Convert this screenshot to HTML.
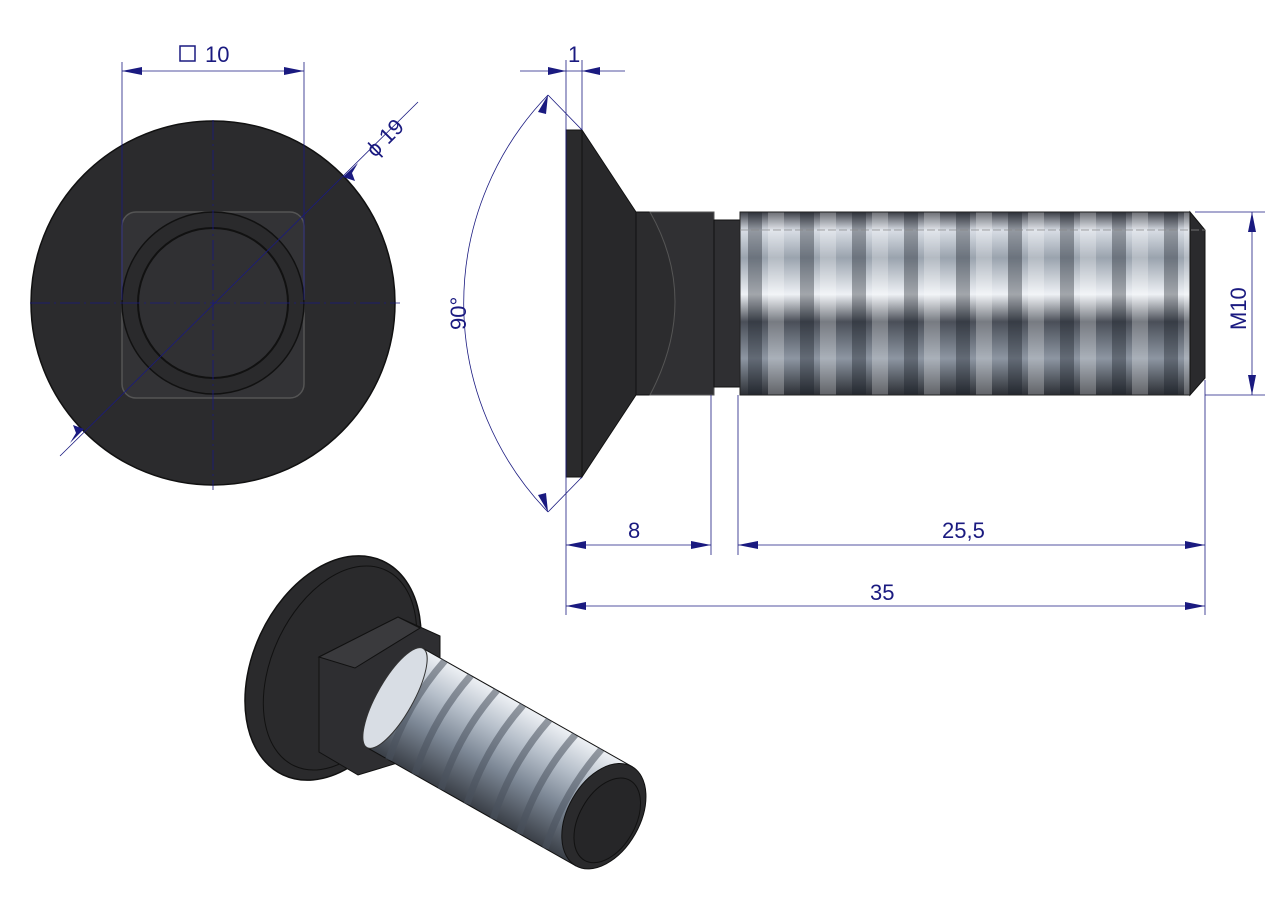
<!DOCTYPE html>
<html><head><meta charset="utf-8"><style>
html,body{margin:0;padding:0;background:#fff;}
svg{display:block;}
text{font-family:"Liberation Sans",sans-serif;fill:#1a1a80;}
</style></head><body>
<svg width="1280" height="905" viewBox="0 0 1280 905" xmlns="http://www.w3.org/2000/svg">
<defs>
<linearGradient id="thr" x1="0" y1="0" x2="0" y2="1">
<stop offset="0" stop-color="#3a3d45"/><stop offset="0.1" stop-color="#d8dde5"/>
<stop offset="0.25" stop-color="#9aa3ae"/><stop offset="0.45" stop-color="#eef1f5"/>
<stop offset="0.6" stop-color="#4a4f58"/><stop offset="0.8" stop-color="#8d96a2"/>
<stop offset="1" stop-color="#2c2f35"/></linearGradient>
<pattern id="rib" x="748" y="0" width="52" height="905" patternUnits="userSpaceOnUse">
<rect x="0" width="14" height="905" fill="rgba(20,25,35,0.35)"/>
<rect x="20" width="16" height="905" fill="rgba(255,255,255,0.25)"/>
</pattern>
<linearGradient id="iso" x1="0" y1="0" x2="0" y2="1">
<stop offset="0" stop-color="#eef1f5"/><stop offset="0.3" stop-color="#b6bfca"/><stop offset="0.6" stop-color="#7d8896"/><stop offset="1" stop-color="#3a3f47"/></linearGradient>
</defs>

<!-- TOP VIEW -->
<circle cx="213" cy="303" r="182" fill="#2b2b2d" stroke="#111" stroke-width="1.5"/>
<rect x="122" y="212" width="182" height="186" rx="14" fill="#333336" stroke="#555" stroke-width="1.5"/>
<circle cx="213" cy="303" r="91" fill="#2a2a2c" stroke="#111" stroke-width="1.5"/>
<circle cx="213" cy="303" r="75" fill="#303033" stroke="#111" stroke-width="2"/>
<g stroke="#1a1a80" stroke-width="0.8" fill="none">
<line x1="30" y1="303" x2="400" y2="303" stroke-dasharray="20,4,2,4"/>
<line x1="213" y1="120" x2="213" y2="490" stroke-dasharray="20,4,2,4"/>
<line x1="122" y1="62" x2="122" y2="300"/>
<line x1="304" y1="62" x2="304" y2="300"/>
<line x1="122" y1="71" x2="304" y2="71"/>
<line x1="60" y1="456" x2="418" y2="102"/>
</g>
<g fill="#1a1a80">
<polygon points="122,71 142,67 142,75"/><polygon points="304,71 284,67 284,75"/>
<polygon points="343,177 358,163 352,173 355,181"/>
<polygon points="84,429 70,443 76,433 73,425"/>
</g>
<rect x="180" y="46" width="15" height="15" fill="none" stroke="#1a1a80" stroke-width="1.5"/>
<text x="205" y="62" font-size="22">10</text>
<text x="355" y="150" font-size="22" transform="rotate(-45 375 130)">ϕ 19</text>

<!-- SIDE VIEW -->
<rect x="566" y="130" width="16" height="347" fill="#2a2a2c" stroke="#111"/>
<polygon points="582,130 636,212 636,395 582,477" fill="#28282a" stroke="#111"/>
<path d="M636,212 Q690,300 636,395" fill="#3a3a3d" stroke="#555"/>
<rect x="636" y="212" width="78" height="183" fill="#2c2c2e" stroke="#111"/>
<path d="M650,212 L714,212 L714,395 L650,395 Q700,300 650,212Z" fill="#303033" stroke="#555"/>
<rect x="714" y="220" width="26" height="167" fill="#2f2f32" stroke="#111"/>
<rect x="740" y="212" width="450" height="183" fill="url(#thr)"/>
<rect x="740" y="212" width="450" height="183" fill="url(#rib)"/>
<rect x="740" y="212" width="450" height="183" fill="none" stroke="#222"/>
<polygon points="1190,212 1205,230 1205,378 1190,395" fill="#2a2a2d" stroke="#111"/>
<g stroke="#1a1a80" stroke-width="0.8" fill="none">
<line x1="566" y1="60" x2="566" y2="615"/>
<line x1="582" y1="60" x2="582" y2="130"/>
<line x1="520" y1="71" x2="625" y2="71"/>
<line x1="711" y1="395" x2="711" y2="555"/>
<line x1="738" y1="395" x2="738" y2="555"/>
<line x1="1205" y1="380" x2="1205" y2="615"/>
<line x1="566" y1="545" x2="711" y2="545"/>
<line x1="738" y1="545" x2="1205" y2="545"/>
<line x1="566" y1="606" x2="1205" y2="606"/>
<line x1="1195" y1="212" x2="1265" y2="212"/>
<line x1="1205" y1="395" x2="1265" y2="395"/>
<line x1="1252" y1="212" x2="1252" y2="395"/>
<line x1="548" y1="95" x2="582" y2="130" />
<line x1="548" y1="512" x2="582" y2="477"/>
<path d="M548,95 A300,300 0 0 0 548,512"/>
<line x1="740" y1="230" x2="1205" y2="230" stroke="#888" stroke-dasharray="8,3"/>
</g>
<g fill="#1a1a80">
<polygon points="566,71 548,67 548,75"/><polygon points="582,71 600,67 600,75"/>
<polygon points="566,545 586,541 586,549"/><polygon points="711,545 691,541 691,549"/>
<polygon points="738,545 758,541 758,549"/><polygon points="1205,545 1185,541 1185,549"/>
<polygon points="566,606 586,602 586,610"/><polygon points="1205,606 1185,602 1185,610"/>
<polygon points="1252,212 1248,232 1256,232"/><polygon points="1252,395 1248,375 1256,375"/>
<polygon points="548,95 538,112 546,114"/><polygon points="548,512 538,495 546,493"/>
</g>
<text x="568" y="62" font-size="22">1</text>
<text x="628" y="538" font-size="22">8</text>
<text x="942" y="538" font-size="22">25,5</text>
<text x="870" y="600" font-size="22">35</text>
<text x="0" y="0" font-size="22" transform="translate(1246,330) rotate(-90)">M10</text>
<text x="0" y="0" font-size="22" transform="translate(466,330) rotate(-90)">90°</text>

<!-- ISO VIEW -->
<ellipse cx="333" cy="668" rx="80" ry="118" transform="rotate(25 333 668)" fill="#2a2a2c" stroke="#111" stroke-width="1.5"/>
<ellipse cx="340" cy="668" rx="68" ry="108" transform="rotate(25 340 668)" fill="none" stroke="#111"/>
<polygon points="319,657 398,617 440,636 440,750 358,775 319,752" fill="#2e2e31" stroke="#111"/>
<polygon points="319,657 398,617 420,628 355,668" fill="#3a3a3d" stroke="#111"/>
<g transform="translate(395,698) rotate(29.5)">
<rect x="0" y="-57" width="240" height="114" fill="url(#iso)" stroke="#111"/>
<g stroke="#4a525e" stroke-width="7" opacity="0.55" fill="none">
<path d="M25,-57 q-12,57 0,114"/><path d="M55,-57 q-12,57 0,114"/><path d="M85,-57 q-12,57 0,114"/>
<path d="M115,-57 q-12,57 0,114"/><path d="M145,-57 q-12,57 0,114"/><path d="M175,-57 q-12,57 0,114"/><path d="M205,-57 q-12,57 0,114"/>
</g>
<ellipse cx="0" cy="0" rx="18" ry="57" fill="#d8dde4" stroke="#333"/>
<ellipse cx="240" cy="0" rx="36" ry="57" fill="#2a2a2c" stroke="#111"/>
<ellipse cx="245" cy="2" rx="28" ry="46" fill="#262628" stroke="#111"/>
</g>
</svg>
</body></html>
